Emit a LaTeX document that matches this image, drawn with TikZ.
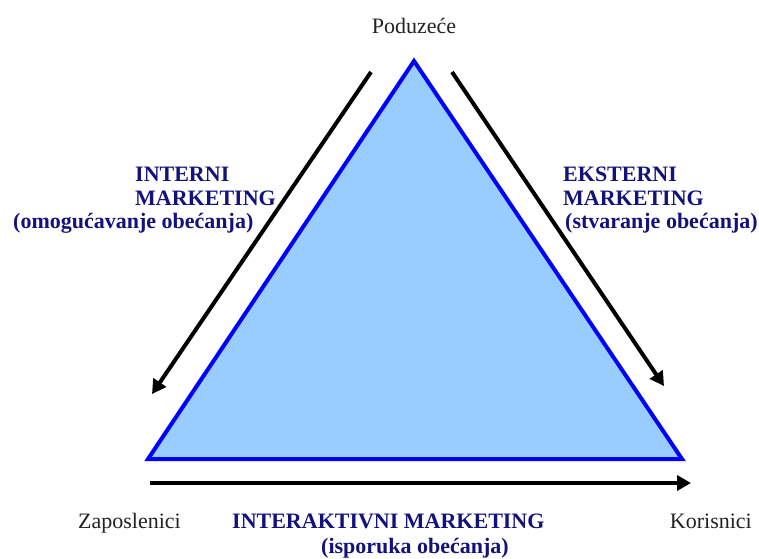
\documentclass[tikz,border=0pt]{standalone}
\usepackage{fontspec}
\setmainfont{Liberation Serif}
\usetikzlibrary{arrows.meta}
\definecolor{trifill}{HTML}{99CCFF}
\definecolor{triline}{HTML}{0000FF}
\definecolor{navy}{HTML}{12127A}
\definecolor{plain}{HTML}{222222}
\tikzset{
  lbl/.style={inner sep=0pt, font=\fontsize{22}{24}\selectfont, text=plain},
  blbl/.style={inner sep=0pt, font=\fontsize{22}{24}\selectfont\bfseries, text=navy},
  bigarrow/.style={line width=4pt, black, -{Triangle[length=14pt,width=15pt]}},
}
\begin{document}
\begin{tikzpicture}[x=1pt,y=-1pt]
\useasboundingbox (0,0) rectangle (759,558);
% triangle
\coordinate (apex) at (414,61);
\coordinate (bl) at (148,459);
\coordinate (br) at (682,459);
\filldraw[fill=trifill, draw=triline, line width=4pt, line join=miter] (apex) -- (br) -- (bl) -- cycle;
% arrows
\coordinate (la1) at (371,72);
\coordinate (la2) at (152,394);
\coordinate (ra1) at (452,72);
\coordinate (ra2) at (664,386);
\coordinate (ba1) at (150,483);
\coordinate (ba2) at (691,483);
\draw[bigarrow] (la1) -- (la2);
\draw[bigarrow] (ra1) -- (ra2);
\draw[bigarrow] (ba1) -- (ba2);
% labels
\node[lbl, anchor=base] (pod) at (414,33) {Poduzeće};
\node[lbl, anchor=base west] (zap) at (78,528) {Zaposlenici};
\node[lbl, anchor=base east] (kor) at (752,528) {Korisnici};
\node[blbl, anchor=base west] (int1) at (135,181) {INTERNI};
\node[blbl, anchor=base west] (int2) at (135,205) {MARKETING};
\node[blbl, anchor=base west] (int3) at (13,228) {(omogućavanje obećanja)};
\node[blbl, anchor=base west] (ext1) at (563,181) {EKSTERNI};
\node[blbl, anchor=base west] (ext2) at (563,205) {MARKETING};
\node[blbl, anchor=base west] (ext3) at (565,228) {(stvaranje obećanja)};
\node[blbl, anchor=base west] (ia1) at (232,528) {INTERAKTIVNI MARKETING};
\node[blbl, anchor=base] (ia2) at (415,553) {(isporuka obećanja)};
\end{tikzpicture}
\end{document}
